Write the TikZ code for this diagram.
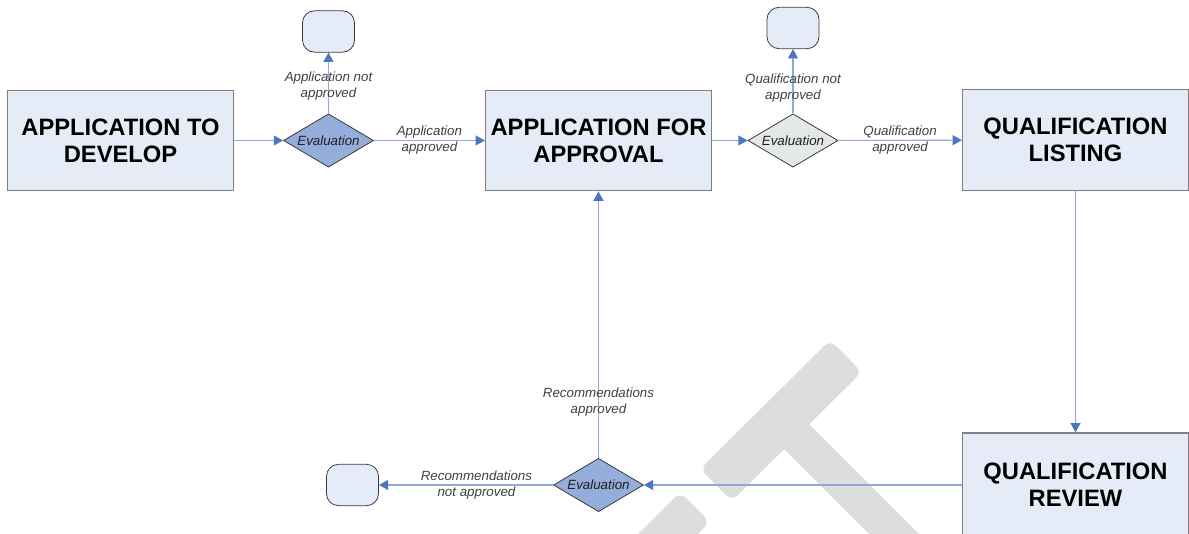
\documentclass[tikz,border=0pt]{standalone}
\usepackage{fontspec}
\setmainfont{Liberation Sans}
\usetikzlibrary{shapes.geometric,arrows.meta}
\definecolor{boxfill}{HTML}{E6ECF7}
\definecolor{boxdraw}{HTML}{808080}
\definecolor{dfill}{HTML}{94ADDA}
\definecolor{dfillgray}{HTML}{E4E9E7}
\definecolor{ddraw}{HTML}{3A3A3A}
\definecolor{lineblue}{HTML}{93A9D1}
\definecolor{tipblue}{HTML}{4A76C4}
\definecolor{lbltext}{HTML}{404040}
\definecolor{wmgray}{HTML}{DDDDDD}
\begin{document}
\begin{tikzpicture}[x=0.75pt,y=-0.75pt,
  procbox/.style={draw=boxdraw, line width=0.9pt, fill=boxfill, minimum width=169.5pt, minimum height=75.5pt, inner sep=0pt, align=center, font=\bfseries\fontsize{17.8}{20.3}\selectfont},
  decision/.style={diamond, aspect=1.7, draw=ddraw, line width=0.6pt, fill=dfill, minimum width=67.5pt, minimum height=40pt, inner sep=0pt, font=\itshape\fontsize{10}{12}\selectfont, text=black!88},
  endterm/.style={draw=ddraw, line width=0.6pt, fill=boxfill, rounded corners=9pt, minimum width=39pt, minimum height=31pt, inner sep=0pt},
  flow/.style={draw=lineblue, line width=0.8pt, -{Triangle[length=7pt,width=7.5pt,color=tipblue]}},
  lbl/.style={font=\itshape\fontsize{10}{12}\selectfont, text=lbltext, align=center, inner sep=0pt}
]
\useasboundingbox (0,0) rectangle (1189,534);
% watermark
\fill[wmgray, rounded corners=6pt] (700.1,469.0) -- (830.1,340.0) -- (861.9,372.0) -- (731.9,501.0) -- cycle;
\fill[wmgray] (777.6,442.4) -- (802.4,417.6) -- (972.4,587.6) -- (947.6,612.4) -- cycle;
\fill[wmgray, rounded corners=6pt] (680.2,492.2) -- (709.9,521.9) -- (603.9,627.9) -- (574.2,598.2) -- cycle;
% nodes
\node[procbox] (b1) at (120.5,140.5) {APPLICATION TO\\DEVELOP};
\node[decision] (d1) at (328.5,140.5) {Evaluation};
\node[endterm] (t1) at (328.5,31.5) {};
\node[procbox] (b2) at (598.5,140.5) {APPLICATION FOR\\APPROVAL};
\node[decision, fill=dfillgray] (d2) at (793,140.5) {Evaluation};
\node[endterm] (t2) at (793,28) {};
\node[procbox] (b3) at (1075.5,140) {QUALIFICATION\\LISTING};
\node[procbox, minimum height=78pt] (b4) at (1075.5,485) {QUALIFICATION\\REVIEW};
\node[decision] (d3) at (598.5,485) {Evaluation};
\node[endterm] (t3) at (352.5,485) {};
% connectors
\draw[flow] (b1) -- (d1);
\draw[flow] (d1) -- node[lbl]{Application\\approved} (b2);
\draw[flow] (d1) -- node[lbl, pos=0.45]{Application not\\approved} (t1);
\draw[flow] (b2) -- (d2);
\draw[flow] (d2) -- node[lbl]{Qualification\\approved} (b3);
\draw[flow] (d2) -- node[lbl, pos=0.4]{Qualification not\\approved} (t2);
\draw[flow] (b3) -- (b4);
\draw[flow] (b4) -- (d3);
\draw[flow] (d3) -- node[lbl, pos=0.21]{Recommendations\\approved} (b2);
\draw[flow] (d3) -- node[lbl, pos=0.44]{Recommendations\\not approved} (t3);
\end{tikzpicture}
\end{document}
